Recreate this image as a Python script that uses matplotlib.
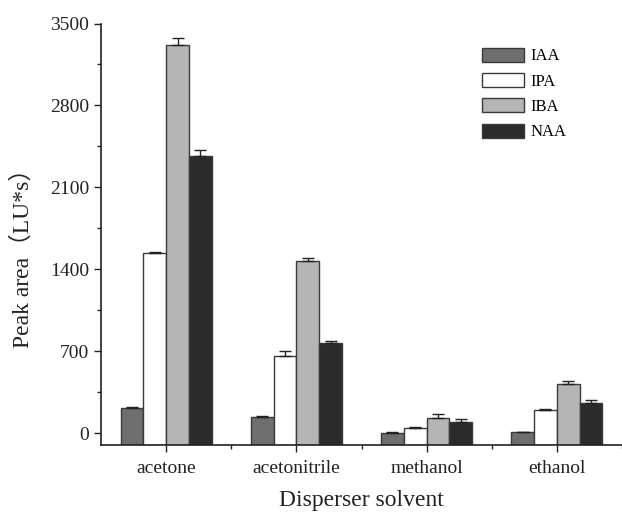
import matplotlib.pyplot as plt
import numpy as np

plt.rcParams['font.family'] = ['Liberation Serif', 'Noto Sans CJK SC']

solvents = ['acetone', 'acetonitrile', 'methanol', 'ethanol']
series = ['IAA', 'IPA', 'IBA', 'NAA']

iaa = [215, 137, 5, 12]
ipa = [1540, 663, 43, 199]
iba = [3318, 1468, 134, 421]
naa = [2365, 774, 100, 259]

iaa_err = [9, 8, 3, 3]
ipa_err = [6, 37, 12, 12]
iba_err = [57, 28, 34, 30]
naa_err = [54, 17, 25, 26]

colors = ['#6e6e6e', '#ffffff', '#b5b5b5', '#2b2b2b']

fig = plt.figure(figsize=(6.22, 5.18), dpi=100)
ax = fig.add_axes([0.1624, 0.1409, 0.8376, 0.8137])

x = np.arange(len(solvents))
w = 0.175
base = -100
vals = [iaa, ipa, iba, naa]
errs = [iaa_err, ipa_err, iba_err, naa_err]
for i in range(4):
    pos = x + (i - 1.5) * w
    heights = np.array(vals[i]) - base
    ax.bar(pos, heights, w, bottom=base, color=colors[i], edgecolor='#3a3a3a',
           linewidth=1.0, label=series[i], zorder=2)
    ax.errorbar(pos, vals[i], yerr=[np.zeros(4), errs[i]], fmt='none',
                ecolor='#222222', elinewidth=1.0, capsize=4, capthick=1.0, zorder=3)

ax.set_xlim(-0.5, 3.5)
ax.set_ylim(base, 3500)
ax.set_yticks(np.arange(0, 3501, 700))
ax.set_yticks(np.arange(350, 3500, 700), minor=True)
ax.set_xticks(x)
ax.set_xticks(x + 0.5, minor=True)
ax.set_xticklabels(solvents)

for s in ['top', 'right']:
    ax.spines[s].set_visible(False)
for s in ['left', 'bottom']:
    ax.spines[s].set_linewidth(1.2)
    ax.spines[s].set_color('#222222')

ax.tick_params(axis='both', which='major', direction='out', length=5, width=1.0,
               labelsize=14, colors='#222222')
ax.tick_params(axis='x', which='major', pad=6)
ax.tick_params(axis='both', which='minor', direction='out', length=3, width=1.0,
               colors='#222222')

ax.set_ylabel('Peak area（LU*s）', fontsize=17, color='#222222')
ax.yaxis.set_label_coords(-0.129, 0.457)
ax.set_xlabel('Disperser solvent', fontsize=17, color='#222222', labelpad=9)

leg = ax.legend(loc='upper left', bbox_to_anchor=(0.703, 0.978), frameon=False,
                fontsize=12, handlelength=2.5, handleheight=0.9,
                labelspacing=0.52, handletextpad=0.4)

fig.savefig('out.png', dpi=100)
